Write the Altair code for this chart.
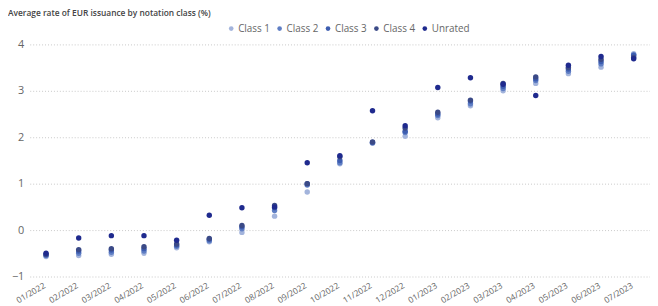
import altair as alt
import pandas as pd

months = ["01/2022", "02/2022", "03/2022", "04/2022", "05/2022", "06/2022", "07/2022",
          "08/2022", "09/2022", "10/2022", "11/2022", "12/2022", "01/2023", "02/2023",
          "03/2023", "04/2023", "05/2023", "06/2023", "07/2023"]

classes = ["Class 1", "Class 2", "Class 3", "Class 4", "Unrated"]
colors = ["#a3b4dc", "#5f7ec4", "#3d5db0", "#3b4a87", "#1f2a8e"]

class1 = [-0.57, -0.55, -0.52, -0.50, -0.38, -0.25, -0.05, 0.30, 0.82, 1.43, 1.87, 2.02, 2.42, 2.68, 3.00, 3.16, 3.37, 3.51, 3.80]
class2 = [-0.55, -0.50, -0.48, -0.45, -0.35, -0.23, 0.03, 0.42, 0.97, 1.45, 1.88, 2.10, 2.47, 2.72, 3.05, 3.22, 3.42, 3.58, 3.78]
class3 = [-0.53, -0.45, -0.43, -0.40, -0.32, -0.20, 0.07, 0.48, 1.00, 1.50, 1.89, 2.13, 2.50, 2.78, 3.10, 3.26, 3.47, 3.63, 3.76]
class4 = [-0.52, -0.42, -0.40, -0.36, -0.30, -0.18, 0.10, 0.53, 1.00, 1.58, 1.90, 2.20, 2.54, 2.80, 3.16, 3.30, 3.50, 3.68, 3.72]
unrated = [-0.50, -0.17, -0.12, -0.12, -0.22, 0.32, 0.48, 0.50, 1.45, 1.60, 2.57, 2.25, 3.07, 3.28, 3.14, 2.90, 3.55, 3.74, 3.69]

series = [class1, class2, class3, class4, unrated]
rows = []
for k, (name, vals) in enumerate(zip(classes, series)):
    for m, v in zip(months, vals):
        rows.append({"month": m, "value": v, "cls": name, "ord": k})
df = pd.DataFrame(rows)

font = "Segoe UI, Open Sans, Noto Sans, sans-serif"

chart = alt.Chart(df).mark_circle(size=30, opacity=1).encode(
    x=alt.X("month:O", sort=months, title=None,
            scale=alt.Scale(type="point", padding=0.5),
            axis=alt.Axis(labelAngle=-30, labelAlign="right", labelBaseline="middle",
                          labelPadding=8, labelOffset=-2, ticks=False, domain=False, grid=False,
                          labelFont=font, labelFontSize=8.5, labelColor="#666666")),
    y=alt.Y("value:Q", title=None,
            scale=alt.Scale(domain=[-1, 4], nice=False, zero=False),
            axis=alt.Axis(values=[-1, 0, 1, 2, 3, 4], format="d", ticks=False, domain=False,
                          grid=True, gridColor="#c8c8c8", gridDash=[1, 2], gridWidth=1,
                          labelFont=font, labelFontSize=11, labelColor="#666666", labelPadding=6)),
    color=alt.Color("cls:N", scale=alt.Scale(domain=classes, range=colors),
                    legend=alt.Legend(orient="none", legendX=199, legendY=-21, direction="horizontal",
                                      title=None, symbolType="circle", symbolSize=22,
                                      labelFont=font, labelFontSize=10, labelColor="#666666",
                                      labelOffset=2, columnPadding=4, symbolStrokeWidth=0)),
    order=alt.Order("ord:Q"),
).properties(
    width=628, height=235,
    autosize=alt.AutoSizeParams(type="none"),
    padding={"left": 22, "top": 35, "right": 0, "bottom": 28},
    title=alt.TitleParams("Average rate of EUR issuance by notation class (%)", anchor="start",
                          frame="group", dx=-22, offset=6, font=font, fontSize=8.5,
                          fontWeight=600, color="#444444"),
).configure_view(stroke=None)

chart.save("out.html", embed_options={"renderer": "svg", "actions": False})
